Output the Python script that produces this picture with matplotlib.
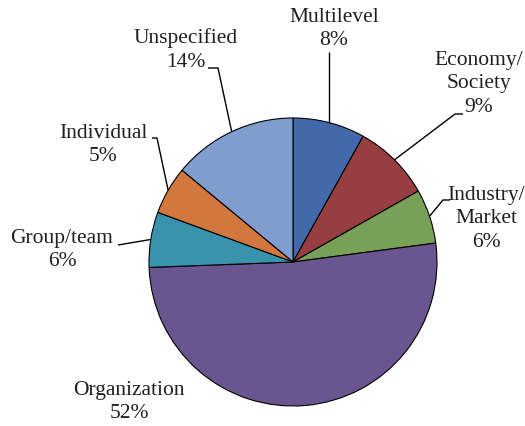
import numpy as np
import matplotlib
matplotlib.use("Agg")
from matplotlib import pyplot as plt

plt.rcParams['font.family'] = ['Liberation Serif', 'DejaVu Serif']

labels = ['Multilevel', 'Economy/\nSociety', 'Industry/\nMarket', 'Organization',
          'Group/team', 'Individual', 'Unspecified']
shares = [8.1, 8.7, 6.1, 51.5, 6.2, 5.4, 14.0]
colors = ['#4269A9', '#963E42', '#78A056', '#69558F', '#3A93AD', '#D2773E', '#7F9DCF']

W, H = 525, 426
cx, cy, R = 293, 262, 144


def px(x, y):
    return ((x - cx) / R, (cy - y) / R)


fig = plt.figure(figsize=(W / 100, H / 100), dpi=100)
ax = fig.add_axes([0, 0, 1, 1])
wedges, _ = ax.pie(shares, colors=colors, startangle=90, counterclock=False,
                   radius=1, center=(0, 0),
                   wedgeprops=dict(edgecolor='black', linewidth=0.8))
ax.set_xlim(-cx / R, (W - cx) / R)
ax.set_ylim(-(H - cy) / R, cy / R)
ax.set_aspect('equal')
ax.axis('off')

# text centre (px) and leader line points (px) leading to the wedge edge
text_pos = [(334, 29), (479, 84), (486, 219), (129, 402), (62, 250), (103, 145), (186, 50)]
leaders = [[(331, 52)], [(463, 114), (455, 114)], [(450, 200), (443, 200)], [],
           [(118, 245)], [(152, 138), (157, 138)], [(208, 68), (218, 68)]]

for w, lab, v, tp, pts in zip(wedges, labels, shares, text_pos, leaders):
    ax.text(*px(*tp), f"{lab}\n{round(v):d}%", ha='center', va='center',
            fontsize=15.5, color='#231F20', linespacing=1.32)
    if pts:
        th = np.deg2rad((w.theta1 + w.theta2) / 2)
        edge = (np.cos(th), np.sin(th))
        path = [px(*p) for p in pts] + [edge]
        if lab == 'Multilevel':
            path = [(edge[0], px(*pts[0])[1]), edge]
        xs, ys = zip(*path)
        ax.plot(xs, ys, color='black', linewidth=1.0, solid_capstyle='butt')

fig.savefig('out.png', dpi=100)
